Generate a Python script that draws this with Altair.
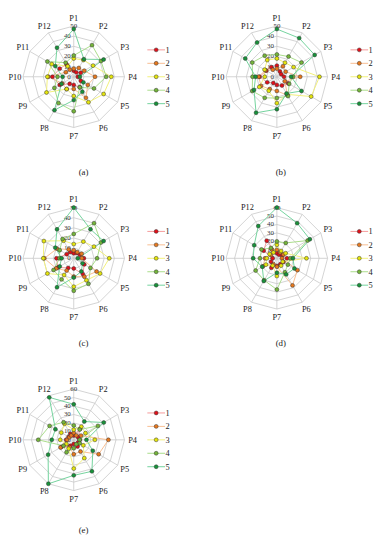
import altair as alt
import pandas as pd

AXES = ["P1", "P2", "P3", "P4", "P5", "P6", "P7", "P8", "P9", "P10", "P11", "P12"]
SERIES = ["1", "2", "3", "4", "5"]
LINE_COLORS = ["#f59a9a", "#f8be92", "#f2f07a", "#a9dc8a", "#72d29c"]
POINT_COLORS = ["#e0101a", "#e6781e", "#e4e40c", "#74b43a", "#18923a"]

# panel (a), scale 0-50
a1 = [6, 5, 8, 4, 8, 12, 8, 8, 16, 21, 16, 14]
a2 = [8, 10, 12, 21, 16, 24, 12, 14, 13, 25, 9, 8]
a3 = [18, 19, 22, 37, 34, 29, 19, 14, 31, 26, 25, 12]
a4 = [21, 36, 31, 32, 23, 12, 34, 30, 22, 16, 30, 16]
a5 = [47, 20, 34, 6, 11, 17, 23, 38, 14, 11, 21, 33]
# panel (b), scale 0-50
b1 = [11, 6, 5, 7, 13, 10, 8, 7, 11, 17, 12, 11]
b2 = [8, 12, 10, 23, 9, 21, 14, 14, 18, 18, 13, 8]
b3 = [18, 16, 19, 42, 39, 20, 26, 16, 20, 12, 14, 19]
b4 = [22, 23, 28, 16, 14, 22, 21, 24, 28, 24, 28, 24]
b5 = [47, 44, 43, 14, 28, 19, 32, 41, 26, 21, 36, 39]
# panel (c), scale 0-50
c1 = [5, 6, 7, 10, 12, 18, 10, 11, 18, 17, 8, 7]
c2 = [8, 7, 9, 8, 26, 21, 18, 14, 20, 29, 19, 10]
c3 = [14, 19, 23, 35, 30, 25, 28, 19, 30, 30, 34, 20]
c4 = [24, 40, 31, 23, 19, 29, 32, 24, 23, 14, 16, 22]
c5 = [50, 33, 34, 4, 10, 15, 19, 33, 16, 12, 21, 33]
# panel (d), scale 0-60
d1 = [6, 5, 7, 12, 9, 8, 9, 13, 8, 5, 18, 24]
d2 = [10, 8, 9, 6, 28, 37, 10, 8, 19, 14, 8, 12]
d3 = [16, 10, 12, 35, 8, 10, 21, 10, 15, 12, 10, 8]
d4 = [20, 21, 42, 16, 15, 19, 37, 30, 29, 20, 21, 14]
d5 = [60, 48, 45, 19, 24, 22, 17, 31, 20, 28, 31, 44]
# panel (e), scale 0-60
e1 = [5, 15, 6, 7, 6, 9, 5, 8, 17, 9, 7, 8]
e2 = [8, 6, 10, 41, 34, 16, 17, 10, 18, 8, 6, 6]
e3 = [12, 18, 16, 25, 13, 25, 34, 12, 10, 16, 17, 22]
e4 = [17, 14, 33, 7, 8, 6, 10, 17, 14, 42, 33, 24]
e5 = [42, 25, 41, 15, 26, 43, 42, 60, 35, 26, 25, 58]

R = 51.7      # outer ring radius (px-equivalent units)
CX = 66       # centre x inside each panel
CY = 65       # centre y from the panel top
PW = 166      # panel width
FONT = "Liberation Serif"


def panel(vals, maxv, caption, cap_dx, cap_dy, height):
    f = R / maxv
    xs = alt.Scale(domain=[-CX, PW - CX], nice=False, zero=False)
    ys = alt.Scale(domain=[-(height - CY), CY], nice=False, zero=False)

    def X(field):
        return alt.X(field, type="quantitative", scale=xs, axis=None)

    def Y(field):
        return alt.Y(field, type="quantitative", scale=ys, axis=None)

    # grid rings
    rings = pd.DataFrame(
        [{"lev": lev, "k": k} for lev in range(10, maxv + 1, 10) for k in range(13)]
    )
    ring_layer = (
        alt.Chart(rings)
        .transform_calculate(
            x=f"datum.lev*{f}*sin(datum.k*PI/6)", y=f"datum.lev*{f}*cos(datum.k*PI/6)"
        )
        .mark_line(color="#c8c8c8", strokeWidth=0.8)
        .encode(x=X("x"), y=Y("y"), detail="lev:N", order="k:Q")
    )
    spokes = pd.DataFrame({"k": list(range(12))})
    spoke_layer = (
        alt.Chart(spokes)
        .transform_calculate(
            x0="0", y0="0",
            x=f"{maxv}*{f}*sin(datum.k*PI/6)", y=f"{maxv}*{f}*cos(datum.k*PI/6)",
        )
        .mark_rule(color="#c8c8c8", strokeWidth=0.8)
        .encode(x=X("x0"), y=Y("y0"), x2="x:Q", y2="y:Q")
    )
    labels = pd.DataFrame({"k": list(range(12)), "lab": AXES})
    label_layer = (
        alt.Chart(labels)
        .transform_calculate(x="60*sin(datum.k*PI/6)", y="60*cos(datum.k*PI/6)")
        .mark_text(font=FONT, fontSize=8.5, color="#222", align="center", baseline="middle")
        .encode(x=X("x"), y=Y("y"), text="lab:N")
    )
    ticks = pd.DataFrame({"lev": list(range(0, maxv, 10))})
    ticks["t"] = ticks["lev"].astype(str)
    tick_layer = (
        alt.Chart(ticks)
        .transform_calculate(x="-3", y=f"datum.lev*{f}")
        .mark_text(font=FONT, fontSize=7, color="#333", align="right", baseline="middle")
        .encode(x=X("x"), y=Y("y"), text="t:N")
    )
    top = pd.DataFrame({"lev": [maxv], "t": [str(maxv)]})
    top_layer = (
        alt.Chart(top)
        .transform_calculate(x="0", y=f"datum.lev*{f}")
        .mark_text(font=FONT, fontSize=7, color="#333", align="center", baseline="middle")
        .encode(x=X("x"), y=Y("y"), text="t:N")
    )

    rows = []
    for si, s in enumerate(SERIES):
        for k in range(13):
            rows.append({"s": s, "k": k, "v": vals[si][k % 12]})
    df = pd.DataFrame(rows)
    base = alt.Chart(df).transform_calculate(
        x=f"datum.v*{f}*sin(datum.k*PI/6)", y=f"datum.v*{f}*cos(datum.k*PI/6)"
    )
    stroke_enc = alt.Stroke(
        "s:N", scale=alt.Scale(domain=SERIES, range=LINE_COLORS), legend=None
    )
    fill_enc = alt.Fill(
        "s:N", scale=alt.Scale(domain=SERIES, range=POINT_COLORS), legend=None
    )
    line_layer = base.mark_line(strokeWidth=1).encode(
        x=X("x"), y=Y("y"), stroke=stroke_enc, order="k:Q"
    )
    pt_layer = (
        base.transform_filter("datum.k < 12")
        .mark_circle(size=16, stroke="#333", strokeWidth=0.5, opacity=1)
        .encode(x=X("x"), y=Y("y"), fill=fill_enc)
    )

    leg = pd.DataFrame({"s": SERIES, "i": list(range(5))})
    leg_base = alt.Chart(leg).transform_calculate(
        y="(2-datum.i)*13.7", xa="75", xb="93", xm="84", xt="93.5"
    )
    leg_line = leg_base.mark_rule(strokeWidth=1).encode(
        x=X("xa"), x2="xb:Q", y=Y("y"), stroke=stroke_enc
    )
    leg_pt = leg_base.mark_circle(size=16, stroke="#333", strokeWidth=0.5, opacity=1).encode(
        x=X("xm"), y=Y("y"), fill=fill_enc
    )
    leg_txt = leg_base.mark_text(
        font=FONT, fontSize=8.5, color="#222", align="left", baseline="middle"
    ).encode(x=X("xt"), y=Y("y"), text="s:N")

    cap = pd.DataFrame({"c": [caption]})
    cap_layer = (
        alt.Chart(cap)
        .transform_calculate(x=str(cap_dx), y=str(-cap_dy))
        .mark_text(font=FONT, fontSize=9, color="#222", align="center", baseline="middle")
        .encode(x=X("x"), y=Y("y"), text="c:N")
    )

    return alt.layer(
        ring_layer, spoke_layer, label_layer, tick_layer, top_layer,
        line_layer, pt_layer, leg_line, leg_pt, leg_txt, cap_layer,
    ).properties(width=PW, height=height)


pa = panel([a1, a2, a3, a4, a5], 50, "(a)", 10, 97, 180)
pb = panel([b1, b2, b3, b4, b5], 50, "(b)", 4, 97, 180)
pc = panel([c1, c2, c3, c4, c5], 50, "(c)", 10, 86, 180)
pd_ = panel([d1, d2, d3, d4, d5], 60, "(d)", 4, 86, 180)
pe = panel([e1, e2, e3, e4, e5], 60, "(e)", 10, 92, 162)

chart = (
    alt.vconcat(
        alt.hconcat(pa, pb, spacing=40),
        alt.hconcat(pc, pd_, spacing=40),
        pe,
        spacing=5,
    )
    .properties(padding=0)
    .configure_view(strokeWidth=0)
)

chart.save("out.html", embed_options={"renderer": "svg", "actions": False})
